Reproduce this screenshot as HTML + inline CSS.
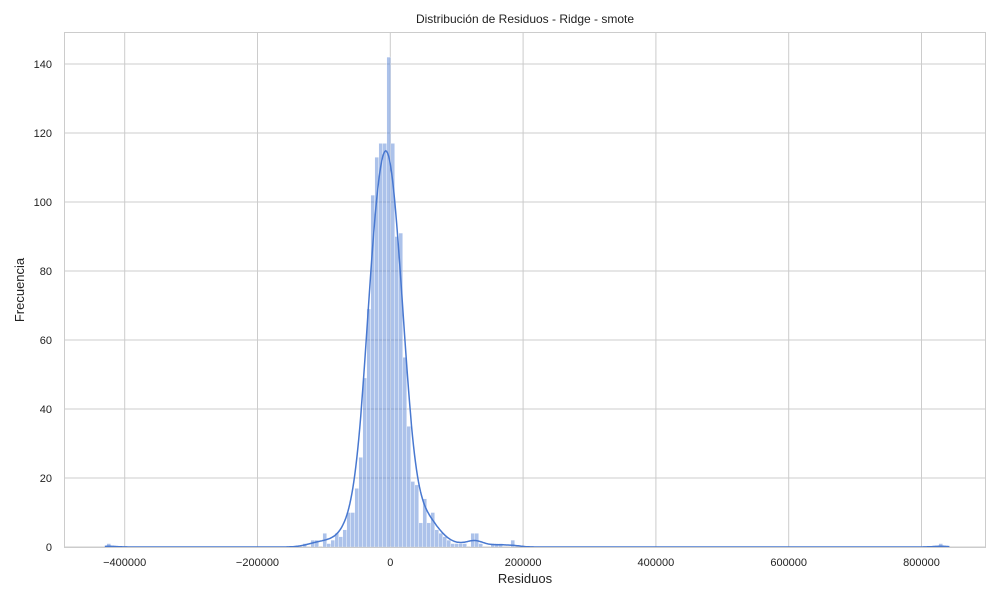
<!DOCTYPE html>
<html><head><meta charset="utf-8"><style>
body{margin:0;background:#fff;font-family:"Liberation Sans",sans-serif}
</style></head><body>
<svg id="c" width="1000" height="600" xmlns="http://www.w3.org/2000/svg">
<rect width="1000" height="600" fill="#fff"/>
<text x="525" y="23" text-anchor="middle" font-size="12" fill="#222">Distribución de Residuos - Ridge - smote</text>
<text x="525" y="583" text-anchor="middle" font-size="13" fill="#222">Residuos</text>
<text x="24" y="290" text-anchor="middle" font-size="13" fill="#222" transform="rotate(-90 24 290)">Frecuencia</text>
<g id="grid"></g><g id="bars"></g><g id="kde"></g>
<rect x="64.5" y="32.5" width="921" height="515" fill="none" stroke="#cccccc"/>
</svg>
<script>
const binStart = -427000;
const binWidth = 6024;
const binIndex = [0,49,51,52,54,55,56,57,58,59,60,61,62,63,64,65,66,67,68,69,70,71,72,73,74,75,76,77,78,79,80,81,82,83,84,85,86,87,88,89,91,92,93,96,97,98,101,208];
const binCount = [1,1,2,2,4,1,2,4,3,5,10,10,17,26,49,69,102,113,117,117,142,117,90,91,55,35,19,18,7,14,7,10,5,4,3,2,1,1,1,1,4,4,1,1,1,1,2,1];
const xTicks = [-400000,-200000,0,200000,400000,600000,800000];
const yTicks = [0,20,40,60,80,100,120,140];
const ns="http://www.w3.org/2000/svg";
const Y0=547;
function xs(v){return 390.3+v*(132.8/200000);}
function ys(v){return Y0-v*3.45;}
const grid=document.getElementById('grid'),bars=document.getElementById('bars'),kde=document.getElementById('kde'),svg=document.getElementById('c');
function mk(t,a,p){const e=document.createElementNS(ns,t);for(const k in a)e.setAttribute(k,a[k]);p.appendChild(e);return e;}
xTicks.forEach(t=>{const x=xs(t);
 const l=mk('line',{x1:x,x2:x,y1:32,y2:547,stroke:'#cccccc'},grid);
 
 
 const tx=mk('text',{x:x,y:566,'text-anchor':'middle','font-size':11,fill:'#222'},svg);
 tx.textContent=t<0?'\u2212'+(-t):String(t);
 
 });
yTicks.forEach(t=>{const y=ys(t);
 const l=mk('line',{x1:64,x2:985,y1:y,y2:y,stroke:'#cccccc'},grid);
 
 
 const tx=mk('text',{x:52,y:y+4,'text-anchor':'end','font-size':11,fill:'#222'},svg);
 tx.textContent=t;
 
 });
binIndex.forEach((k,i)=>{const a=binStart+k*binWidth,b=a+binWidth,c=binCount[i];
 const r=mk('rect',{x:xs(a),y:ys(c),width:xs(b)-xs(a),height:Y0-ys(c),fill:'rgba(72,120,208,0.45)',stroke:'#fff','stroke-width':0.4},bars);
 
 });
const h=12000;let d='';
for(let v=-430000;v<=843000;v+=1500){let s=0;
 binIndex.forEach((k,i)=>{const c=binStart+(k+0.5)*binWidth;const z=(v-c)/h;s+=binCount[i]*Math.exp(-0.5*z*z);});
 const val=s/(h*Math.sqrt(2*Math.PI))*binWidth;
 d+=(d?'L':'M')+xs(v).toFixed(1)+','+ys(val).toFixed(1);}
const p=mk('path',{d:d,fill:'none',stroke:'#4878d0','stroke-width':1.5},kde);


</script>
</body></html>
